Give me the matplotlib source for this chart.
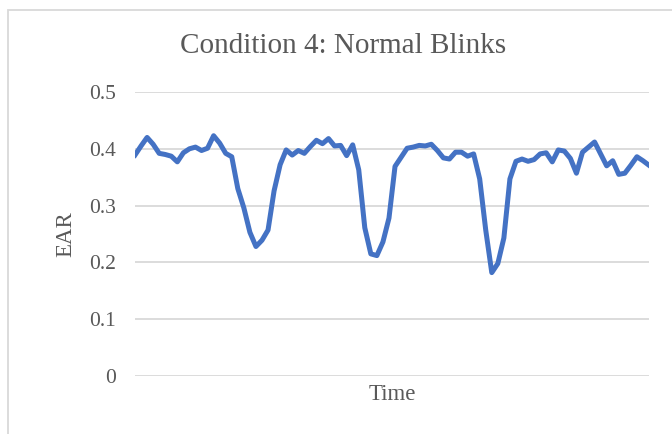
import matplotlib
matplotlib.use('Agg')
import matplotlib.pyplot as plt
from matplotlib.patches import Rectangle

# EAR values, one per frame
ear = [0.389, 0.405, 0.420, 0.408, 0.392, 0.390, 0.387, 0.377, 0.393, 0.400,
       0.403, 0.397, 0.401, 0.423, 0.410, 0.392, 0.386, 0.330, 0.296, 0.253,
       0.228, 0.239, 0.257, 0.326, 0.372, 0.398, 0.389, 0.397, 0.392, 0.404,
       0.415, 0.409, 0.418, 0.405, 0.406, 0.388, 0.407, 0.363, 0.261, 0.215,
       0.212, 0.236, 0.278, 0.369, 0.385, 0.401, 0.403, 0.406, 0.405, 0.408,
       0.397, 0.384, 0.382, 0.394, 0.394, 0.387, 0.391, 0.347, 0.257, 0.182,
       0.198, 0.243, 0.347, 0.378, 0.382, 0.378, 0.381, 0.391, 0.393, 0.377,
       0.398, 0.396, 0.383, 0.357, 0.394, 0.403, 0.412, 0.391, 0.370, 0.379,
       0.355, 0.357, 0.371, 0.386, 0.379, 0.371]
y_ticks = [0, 0.1, 0.2, 0.3, 0.4, 0.5]
y_labels = ['0', '0.1', '0.2', '0.3', '0.4', '0.5']

text_col = '#595959'
plt.rcParams['font.family'] = ['Liberation Serif', 'DejaVu Serif']

fig = plt.figure(figsize=(6.72, 4.34), dpi=100)
ax = fig.add_axes([135 / 672, 1 - 376 / 434, 514 / 672, 284 / 434])

ax.plot(range(len(ear)), ear, color='#4472c4', lw=3.6, solid_joinstyle='round')

ax.set_xlim(0, len(ear) - 1)
ax.set_ylim(0, 0.5)
ax.set_yticks(y_ticks)
ax.set_yticklabels(y_labels)
ax.set_xticks([])
ax.tick_params(axis='y', length=0, pad=14, labelsize=15.5, labelcolor=text_col)
ax.grid(axis='y', color='#d9d9d9', lw=1.3)
ax.set_axisbelow(True)
for s in ax.spines.values():
    s.set_visible(False)

ax.set_ylabel('EAR', fontsize=16.5, color=text_col, labelpad=9)
ax.set_xlabel('Time', fontsize=16.5, color=text_col, labelpad=6)
fig.text(0.51, 1 - 46 / 434, 'Condition 4: Normal Blinks', fontsize=21,
         color=text_col, ha='center', va='center')

# chart border (cut off on right and bottom)
fig.add_artist(Rectangle((8 / 672, -0.1), 1.2, 1 - 10 / 434 + 0.1,
                         transform=fig.transFigure, fill=False,
                         edgecolor='#d9d9d9', lw=1.3))

fig.savefig('out.png', dpi=100)
